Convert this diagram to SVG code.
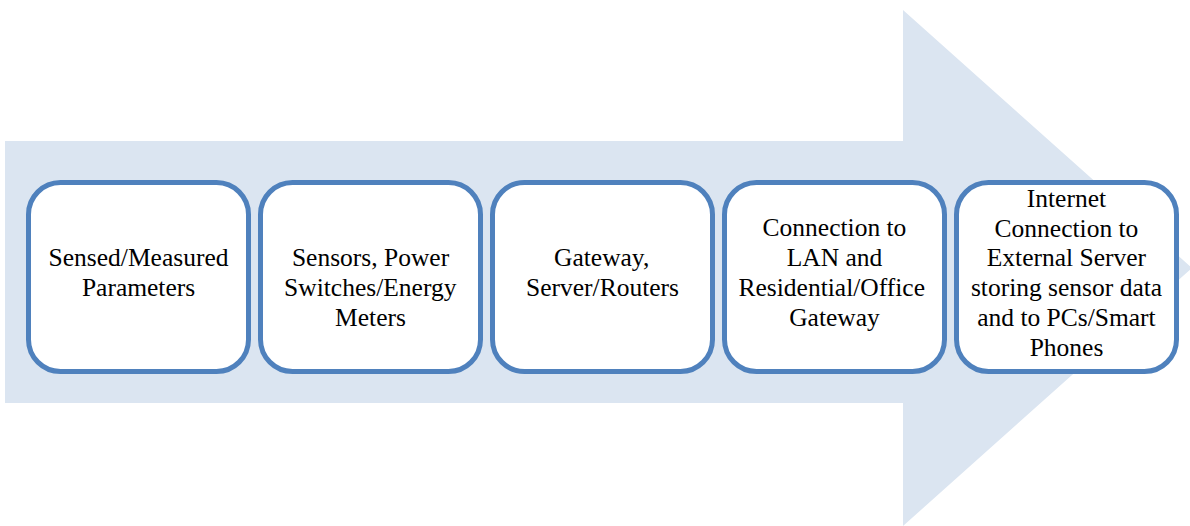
<svg xmlns="http://www.w3.org/2000/svg" width="1190" height="526" viewBox="0 0 1190 526">
<rect width="1190" height="526" fill="#ffffff"/>
<g id="arrow">
<polygon points="5,141 903,141 903,10 1192,268 903,526 903,403 5,403" fill="#dbe5f1"/>
</g>
<g id="connectors"></g>
<g id="node1">
<rect x="28.5" y="182.5" width="220" height="189" rx="32" fill="#ffffff" stroke="#4f81bd" stroke-width="5"/>
<text font-family="Liberation Serif" font-size="25.5" x="48.6" y="266">Sensed/Measured</text>
<text font-family="Liberation Serif" font-size="25.5" x="81.9" y="296">Parameters</text>
</g>
<g id="node2">
<rect x="260.5" y="182.5" width="220" height="189" rx="32" fill="#ffffff" stroke="#4f81bd" stroke-width="5"/>
<text font-family="Liberation Serif" font-size="25.5" x="291.9" y="266">Sensors, Power</text>
<text font-family="Liberation Serif" font-size="25.5" x="284.1" y="296">Switches/Energy</text>
<text font-family="Liberation Serif" font-size="25.5" x="335.1" y="326">Meters</text>
</g>
<g id="node3">
<rect x="492.5" y="182.5" width="220" height="189" rx="32" fill="#ffffff" stroke="#4f81bd" stroke-width="5"/>
<text font-family="Liberation Serif" font-size="25.5" x="554.0" y="266">Gateway,</text>
<text font-family="Liberation Serif" font-size="25.5" x="526.0" y="296">Server/Routers</text>
</g>
<g id="node4">
<rect x="724.5" y="182.5" width="220" height="189" rx="32" fill="#ffffff" stroke="#4f81bd" stroke-width="5"/>
<text font-family="Liberation Serif" font-size="25.5" x="762.6" y="236">Connection to</text>
<text font-family="Liberation Serif" font-size="25.5" x="786.7" y="266">LAN and</text>
<text font-family="Liberation Serif" font-size="25.5" x="738.5" y="296">Residential/Office</text>
<text font-family="Liberation Serif" font-size="25.5" x="789.2" y="326">Gateway</text>
</g>
<g id="node5">
<rect x="956.5" y="182.5" width="220" height="189" rx="32" fill="#ffffff" stroke="#4f81bd" stroke-width="5"/>
<text font-family="Liberation Serif" font-size="25.5" x="1026.8" y="207">Internet</text>
<text font-family="Liberation Serif" font-size="25.5" x="994.6" y="236.5">Connection to</text>
<text font-family="Liberation Serif" font-size="25.5" x="986.8" y="266">External Server</text>
<text font-family="Liberation Serif" font-size="25.5" x="970.9" y="296">storing sensor data</text>
<text font-family="Liberation Serif" font-size="25.5" x="977.2" y="326">and to PCs/Smart</text>
<text font-family="Liberation Serif" font-size="25.5" x="1029.7" y="355.5">Phones</text>
</g>
</svg>
